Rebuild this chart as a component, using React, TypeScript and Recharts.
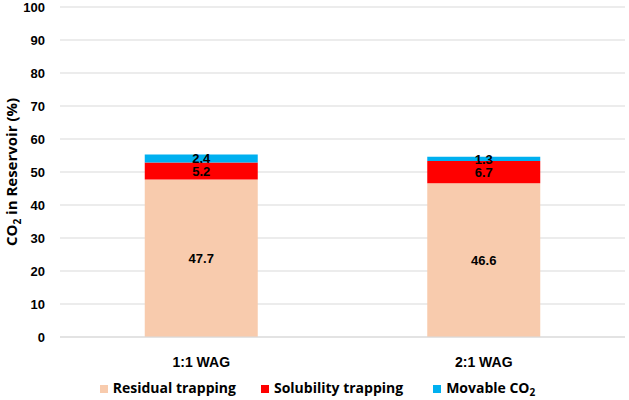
import { Bar, BarChart, CartesianGrid, LabelList, Legend, XAxis, YAxis } from "recharts";

const CATEGORIES = ["1:1 WAG", "2:1 WAG"];
const RESIDUAL = [47.7, 46.6];
const SOLUBILITY = [5.2, 6.7];
const MOVABLE = [2.4, 1.3];
const Y_TICKS = [0, 10, 20, 30, 40, 50, 60, 70, 80, 90, 100];

const data = CATEGORIES.map((name, i) => ({
  name,
  residual: RESIDUAL[i],
  solubility: SOLUBILITY[i],
  movable: MOVABLE[i],
}));

const ARIAL = "Arial, 'Liberation Sans', sans-serif";
const GOTHIC = "'Open Sans', 'Noto Sans', sans-serif";

const LABEL_STYLE = { fill: "#000", fontSize: 13, fontWeight: 700, fontFamily: ARIAL };

function YLabel({ viewBox }: any) {
  const cy = viewBox.y + viewBox.height / 2;
  const x = 17;
  return (
    <text
      x={x}
      y={cy}
      transform={`rotate(-90, ${x}, ${cy})`}
      textAnchor="middle"
      fontFamily={GOTHIC}
      fontWeight={700}
      fontSize={15}
      fill="#000"
    >
      CO
      <tspan fontSize={10} dy={4}>
        2
      </tspan>
      <tspan dy={-4}> in Reservoir (%)</tspan>
    </text>
  );
}

function Swatch({ color, children, gap }: { color: string; children: any; gap: number }) {
  return (
    <span style={{ display: "inline-flex", alignItems: "center", marginRight: gap }}>
      <span style={{ width: 8, height: 8, background: color, marginRight: 5, marginTop: 2 }} />
      <span>{children}</span>
    </span>
  );
}

function LegendBox() {
  return (
    <div
      style={{
        height: 30,
        paddingTop: 6,
        boxSizing: "border-box",
        display: "flex",
        justifyContent: "center",
        paddingLeft: 10,
        fontFamily: GOTHIC,
        fontWeight: 700,
        fontSize: 14,
        lineHeight: "20px",
        color: "#000",
      }}
    >
      <Swatch color="#F8CBAD" gap={25}>Residual trapping</Swatch>
      <Swatch color="#FF0000" gap={30}>Solubility trapping</Swatch>
      <Swatch color="#00B0F0" gap={0}>
        Movable CO<sub style={{ fontSize: 10, verticalAlign: "-3px", lineHeight: 0 }}>2</sub>
      </Swatch>
    </div>
  );
}

export default function App() {
  return (
    <div style={{ position: "absolute", left: 0, top: 0, width: 629, height: 400, background: "#fff" }}>
      <BarChart
        width={629}
        height={400}
        data={data}
        margin={{ top: 7, right: 4, bottom: 0, left: 0 }}
        barCategoryGap="30%"
      >
        <CartesianGrid vertical={false} stroke="#d9d9d9" strokeWidth={1.2} />
        <XAxis
          dataKey="name"
          height={33}
          axisLine={{ stroke: "#d9d9d9", strokeWidth: 1.2 }}
          tickLine={false}
          tickSize={0}
          tickMargin={20}
          tick={{ fill: "#000", fontSize: 14, fontWeight: 700, fontFamily: ARIAL }}
        />
        <YAxis
          width={60}
          domain={[0, 100]}
          ticks={Y_TICKS}
          axisLine={false}
          tickLine={false}
          tickSize={0}
          tickMargin={15}
          tick={{ fill: "#000", fontSize: 13, fontWeight: 700, fontFamily: ARIAL }}
          label={<YLabel />}
        />
        <Legend verticalAlign="bottom" height={30} content={() => <LegendBox />} />
        <Bar dataKey="residual" stackId="a" fill="#F8CBAD" isAnimationActive={false}>
          <LabelList dataKey="residual" position="center" style={LABEL_STYLE} />
        </Bar>
        <Bar dataKey="solubility" stackId="a" fill="#FF0000" isAnimationActive={false}>
          <LabelList dataKey="solubility" position="center" style={LABEL_STYLE} />
        </Bar>
        <Bar dataKey="movable" stackId="a" fill="#00B0F0" isAnimationActive={false}>
          <LabelList dataKey="movable" position="center" style={LABEL_STYLE} />
        </Bar>
      </BarChart>
    </div>
  );
}
